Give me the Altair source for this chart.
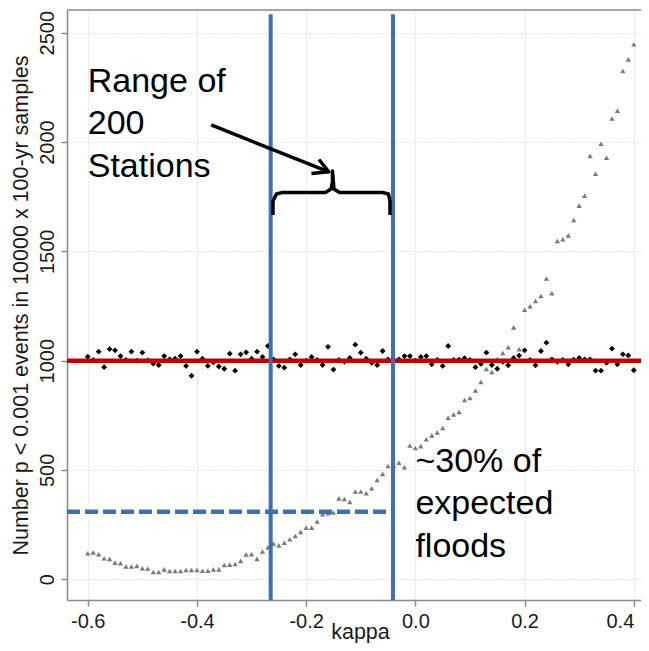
import altair as alt
import pandas as pd

# ---------------- data ----------------
kappa = [round(-0.60 + 0.01 * i, 2) for i in range(101)]

# black diamonds (GEV-type samples), kappa -0.60 ... 0.40
gev_counts = [
    1018, 1003, 1041, 970, 1053, 1047, 1021, 1003, 1041, 1000,
    1037, 1001, 986, 980, 1021, 1006, 1009, 1021, 976, 931,
    1041, 1009, 976, 992, 973, 963, 1032, 954, 1029, 1038,
    1009, 1041, 1017, 1067, 1006, 976, 968, 1006, 1029, 980,
    1000, 1017, 1003, 980, 1063, 959, 1003, 995, 1012, 1073,
    1037, 1009, 990, 980, 1044, 1006, 1000, 1006, 1021, 1021,
    1000, 1017, 1021, 983, 1003, 976, 1067, 1003, 1005, 1011,
    1003, 970, 985, 1037, 980, 963, 995, 979, 1012, 1023,
    1047, 1003, 979, 1044, 1082, 1006, 995, 1003, 983, 1005,
    1012, 1006, 1006, 954, 954, 990, 1055, 983, 1029, 1024,
    956,
]

# grey triangles (Gumbel-fitted samples), kappa -0.60 ... 0.40
gumbel_counts = [
    119, 123, 114, 96, 93, 76, 73, 58, 58, 61,
    50, 49, 33, 33, 45, 38, 38, 38, 42, 42,
    42, 39, 39, 45, 45, 65, 67, 70, 84, 113,
    114, 93, 127, 146, 163, 155, 167, 183, 198, 216,
    236, 236, 264, 297, 302, 305, 370, 367, 353, 401,
    401, 393, 416, 454, 482, 518, 522, 533, 512, 612,
    600, 609, 640, 658, 672, 692, 739, 754, 765, 820,
    829, 863, 902, 962, 948, 1007, 1035, 1061, 1152, 1052,
    1233, 1249, 1273, 1296, 1376, 1308, 1547, 1556, 1573, 1643,
    1709, 1755, 1936, 1855, 1992, 1928, 2108, 2143, 2325, 2378,
    2447,
]

x_ticks = [-0.6, -0.4, -0.2, 0.0, 0.2, 0.4]
y_ticks = [0, 500, 1000, 1500, 2000, 2500]

station_range = [-0.265, -0.041]   # blue vertical lines
station_top = 2585
expected_level = 1000              # red line
fraction_level = 309               # dashed blue line
fraction_end = -0.049

X_DOMAIN = [-0.638, 0.4132]
Y_DOMAIN = [-95, 2604]

# annotation text (kappa, count) of each line's left baseline
text_labels = ["Range of", "200", "Stations", "~30% of", "expected", "floods"]
text_x = [-0.6, -0.6, -0.6, 0.0, 0.0, 0.0]
text_y = [2230, 2035, 1841, 492, 297, 101]

# arrow and brace polylines (kappa, count)
seg_names = (["shaft"] * 2 + ["head"] * 3 + ["brace"] * 15)
seg_x = [-0.374, -0.1586,
         -0.1766, -0.1586, -0.1903,
         -0.2608, -0.2608, -0.2544, -0.2434, -0.1647, -0.1546, -0.1518,
         -0.1518, -0.1491, -0.139, -0.0603, -0.0493, -0.0465, -0.0465, -0.0465]
seg_y = [2078, 1864,
         1920, 1864, 1856,
         1666, 1730, 1762, 1769, 1769, 1785, 1817,
         1868, 1785, 1769, 1769, 1762, 1730, 1700, 1666]

# ---------------- chart ----------------
FONT = "Liberation Sans"
FRAME = "#8a8a8a"
GRID = "#cfcfcf"
BLUE = "#3d6fb4"
RED = "#c00000"

pts = pd.DataFrame({"kappa": kappa, "black": gev_counts, "gray": gumbel_counts})

xs = alt.Scale(domain=X_DOMAIN, nice=False, zero=False)
ys = alt.Scale(domain=Y_DOMAIN, nice=False, zero=False)

x_axis = alt.Axis(
    values=x_ticks,
    labelExpr="datum.value < 0 ? '-' + format(-datum.value, '.1f') : format(datum.value, '.1f')",
    title="kappa", grid=True, gridDash=[1, 2], gridColor=GRID, gridWidth=1,
    domain=True, domainColor=FRAME, domainWidth=1.5,
    ticks=True, tickSize=6, tickColor=FRAME, tickWidth=1.5,
    labelFont=FONT, labelFontSize=20, labelColor="#1a1a1a", labelPadding=5,
    labelOverlap=False, labelFlush=12,
    titleFont=FONT, titleFontSize=21.5, titleFontWeight="normal", titleColor="#1a1a1a",
    titleX=293, titleY=38, titleAlign="center", titleBaseline="alphabetic",
)
y_axis = alt.Axis(
    values=y_ticks, format="d",
    title="Number p < 0.001 events in 10000 x 100-yr samples",
    grid=True, gridDash=[1, 2], gridColor=GRID, gridWidth=1,
    domain=True, domainColor=FRAME, domainWidth=1.5,
    ticks=True, tickSize=6, tickColor=FRAME, tickWidth=1.5,
    labelFont=FONT, labelFontSize=20, labelColor="#1a1a1a", labelPadding=8,
    labelAngle=270, labelAlign="center", labelBaseline="alphabetic",
    labelOverlap=False,
    titleFont=FONT, titleFontSize=21.5, titleFontWeight="normal", titleColor="#1a1a1a",
    titleAngle=270, titleX=-40, titleY=295, titleAlign="center",
    titleBaseline="alphabetic",
)


def X(field):
    return alt.X(field, scale=xs, axis=x_axis)


def Y(field):
    return alt.Y(field, scale=ys, axis=y_axis)


tri = alt.Chart(pts).mark_point(
    shape="triangle-up", filled=True, size=28, color="#7a7a7a", opacity=1
).encode(x=X("kappa:Q"), y=Y("gray:Q"))

dia = alt.Chart(pts).mark_point(
    shape="diamond", filled=True, size=34, color="black", opacity=1
).encode(x=X("kappa:Q"), y=Y("black:Q"))

top_border = alt.Chart(pd.DataFrame({"y": [Y_DOMAIN[1]]})).mark_rule(
    color=FRAME, strokeWidth=1.5
).encode(y=Y("y:Q"))

red = alt.Chart(pd.DataFrame({"y": [expected_level]})).mark_rule(
    color=RED, strokeWidth=4.5
).encode(y=Y("y:Q"))

vlines = alt.Chart(pd.DataFrame({
    "x": station_range, "top": [station_top] * 2, "bottom": [Y_DOMAIN[0]] * 2
})).mark_rule(color=BLUE, strokeWidth=4).encode(
    x=X("x:Q"), y=Y("top:Q"), y2="bottom:Q",
)

dashed = alt.Chart(pd.DataFrame({
    "x": [X_DOMAIN[0]], "x2": [fraction_end], "y": [fraction_level]
})).mark_rule(color=BLUE, strokeWidth=4.5, strokeDash=[13, 5]).encode(
    x=X("x:Q"), x2="x2:Q", y=Y("y:Q"),
)

segs = pd.DataFrame({"seg": seg_names, "x": seg_x, "y": seg_y,
                     "ord": list(range(len(seg_x)))})
lines = alt.Chart(segs).mark_line(
    color="black", strokeWidth=3.5, strokeJoin="round"
).encode(x=X("x:Q"), y=Y("y:Q"), detail="seg:N", order="ord:Q")

texts = alt.Chart(pd.DataFrame({"label": text_labels, "x": text_x, "y": text_y})).mark_text(
    align="left", baseline="alphabetic", font=FONT, fontSize=34, color="black"
).encode(x=X("x:Q"), y=Y("y:Q"), text="label:N")

chart = alt.layer(tri, dia, top_border, red, vlines, dashed, lines, texts).properties(
    width=574, height=590,
    padding={"left": 59, "top": 2, "right": 0, "bottom": 43},
    autosize=alt.AutoSizeParams(type="none"),
    background="white",
).configure_view(stroke=None)

chart.save("out.html", embed_options={"renderer": "svg", "actions": False})
